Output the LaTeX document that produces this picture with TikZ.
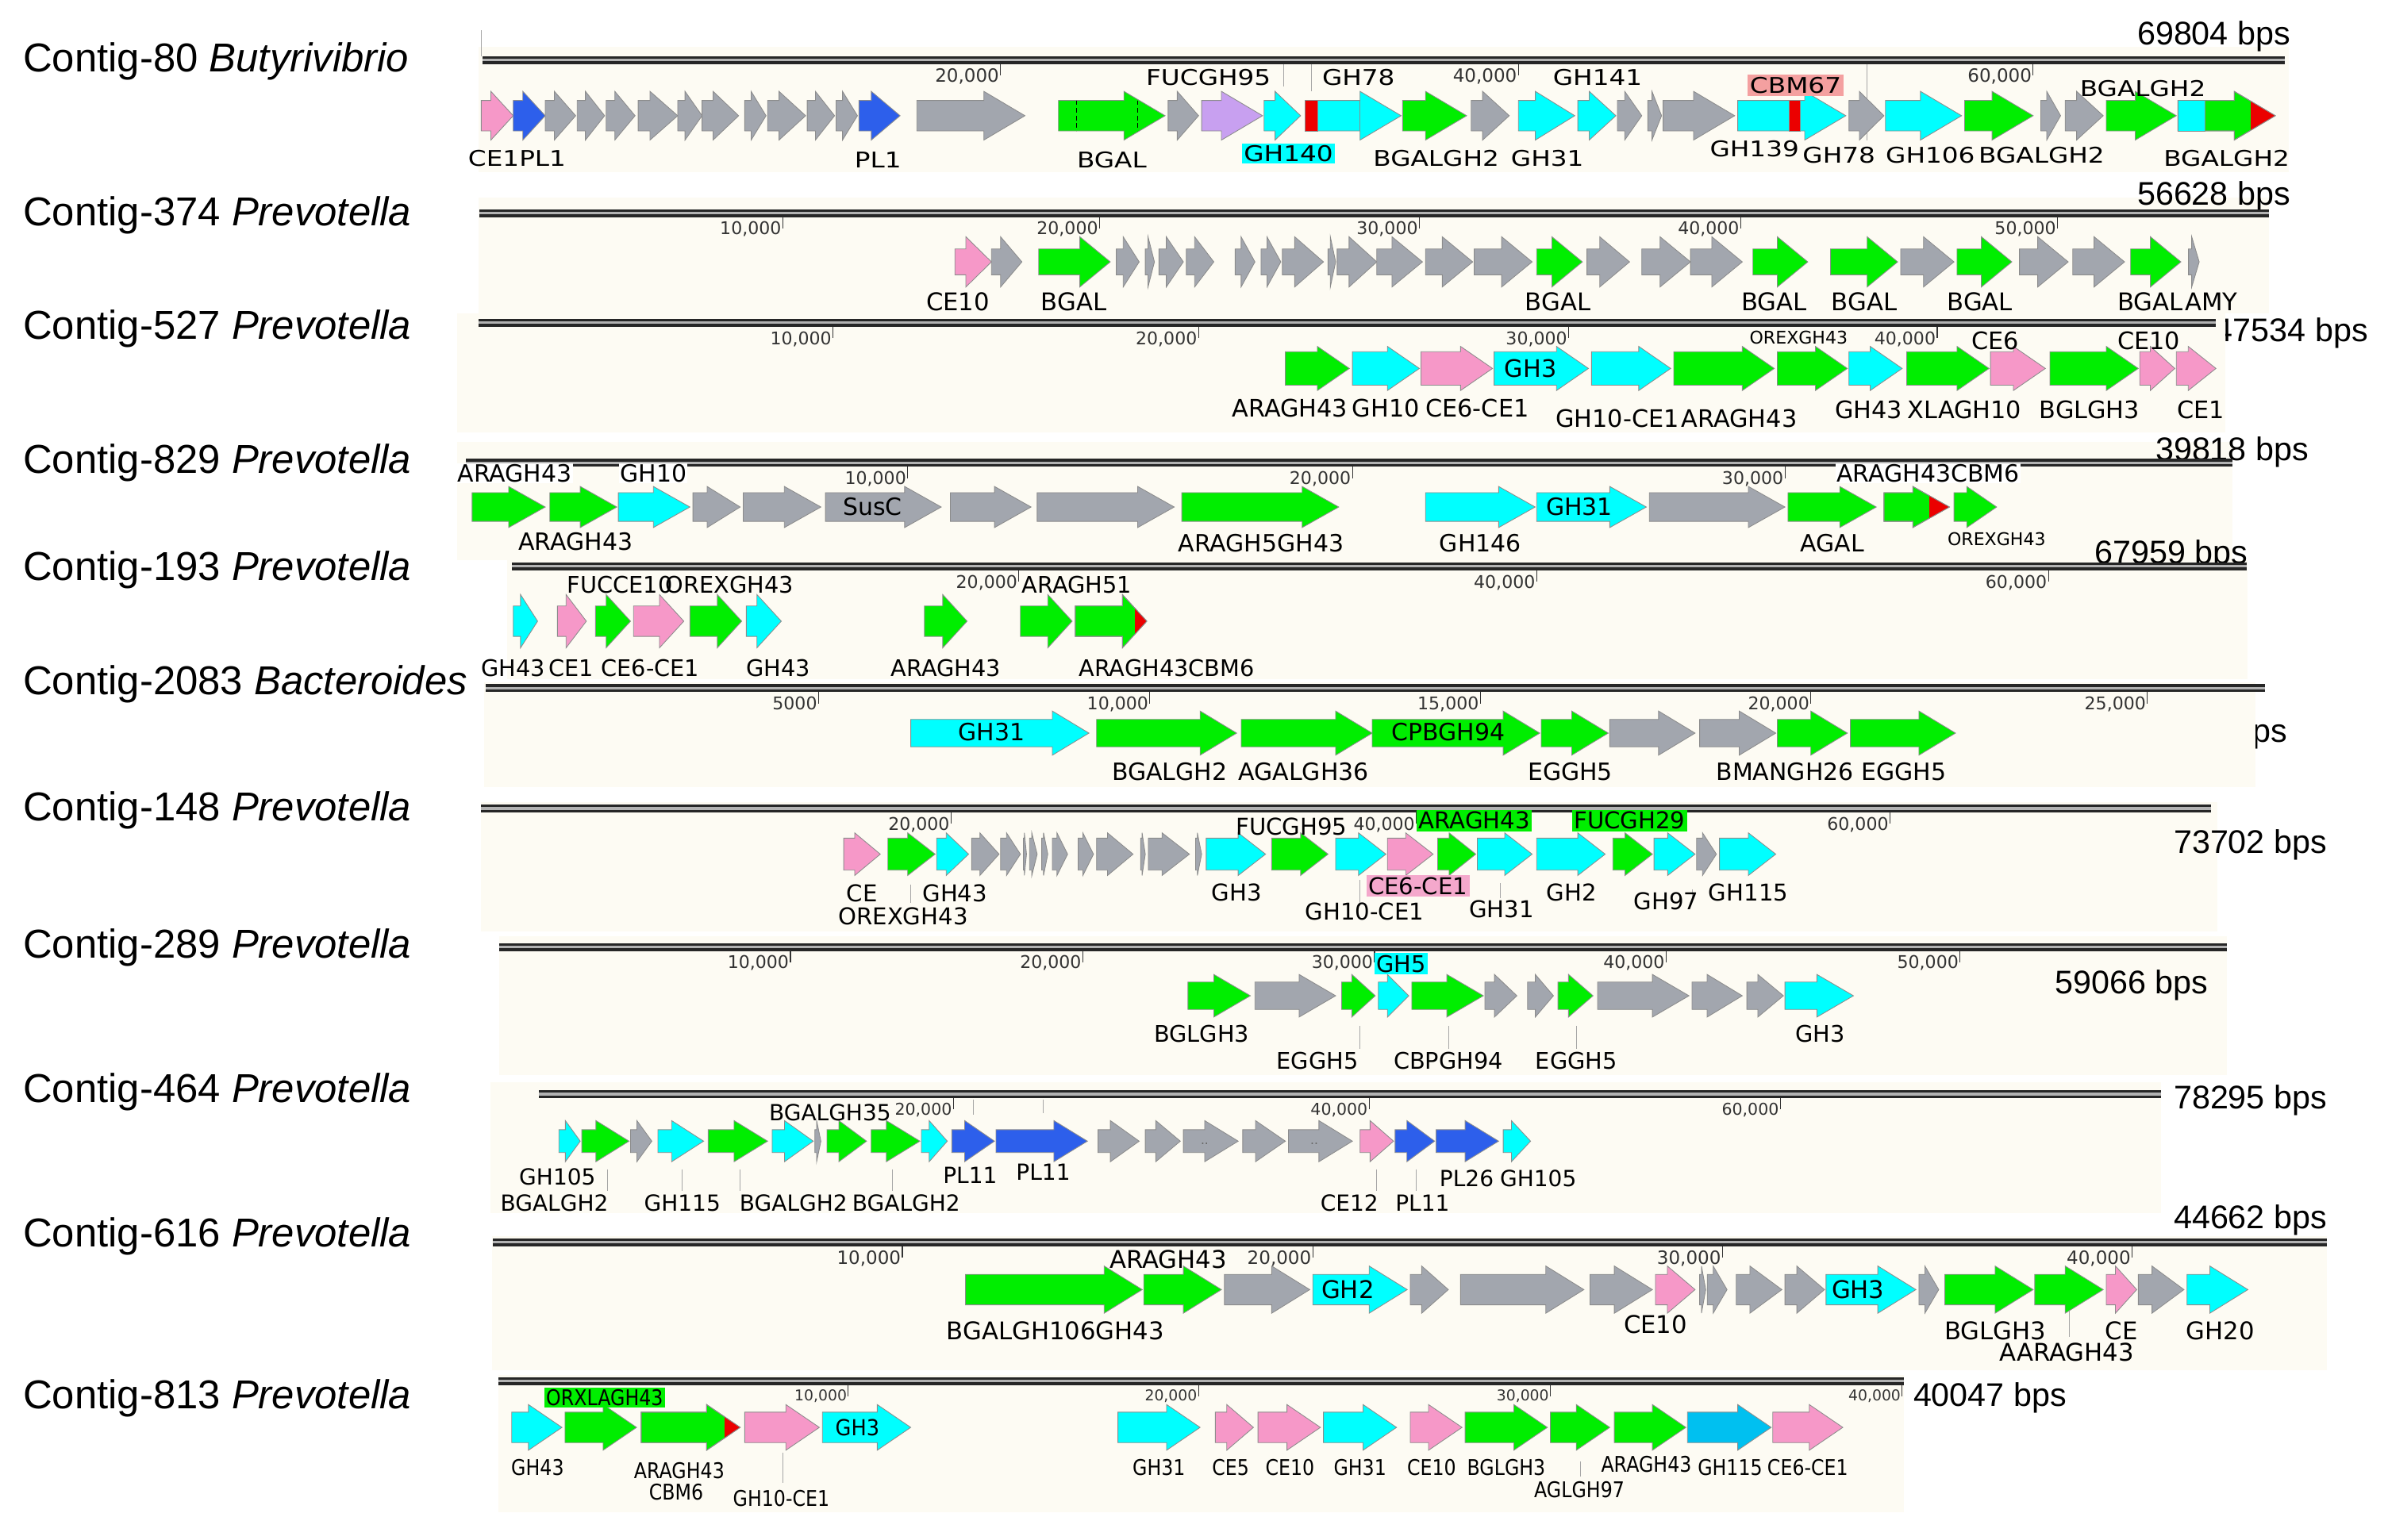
\documentclass[tikz,border=0pt]{standalone}
\usepackage{fontspec}
\newfontfamily\labfont{DejaVu Sans}
\newfontfamily\namefont{Liberation Sans}
\definecolor{gG}{RGB}{0,238,0}
\definecolor{gC}{RGB}{0,255,255}
\definecolor{gY}{RGB}{162,166,174}
\definecolor{gP}{RGB}{246,152,200}
\definecolor{gB}{RGB}{45,95,235}
\definecolor{gV}{RGB}{200,160,240}
\definecolor{gR}{RGB}{235,0,0}
\definecolor{gS}{RGB}{0,192,240}
\definecolor{panel}{RGB}{253,251,243}
\definecolor{salm}{RGB}{244,160,160}
\definecolor{pinkbg}{RGB}{244,168,204}
\newcounter{lbc}
\newcommand\setrow[4]{\def\YC{#1}\def\BH{#2}\def\HH{#3}\def\HL{#4}}
\newcommand\gene[3]{%
 \pgfmathsetmacro\gL{min(\HL,0.7*(#3-#2))}%
 \pgfmathsetmacro\gM{#3-\gL}%
 \filldraw[gene,fill=#1] (#2,\YC-\BH) -- (\gM,\YC-\BH) -- (\gM,\YC-\HH) -- (#3,\YC) -- (\gM,\YC+\HH) -- (\gM,\YC+\BH) -- (#2,\YC+\BH) -- cycle;}
\newcommand\gbox[3]{\filldraw[gene,fill=#1] (#2,\YC-\BH) rectangle (#3,\YC+\BH);}
\newcommand\gtip[4]{%
 \gene{#1}{#2}{#3}%
 \begin{scope}
 \clip (#2,\YC-\BH) -- (\gM,\YC-\BH) -- (\gM,\YC-\HH) -- (#3,\YC) -- (\gM,\YC+\HH) -- (\gM,\YC+\BH) -- (#2,\YC+\BH) -- cycle;
 \fill[gR] (#4,\YC-\HH-1) rectangle (#3+1,\YC+\HH+1);
 \end{scope}
 \draw[gene] (#2,\YC-\BH) -- (\gM,\YC-\BH) -- (\gM,\YC-\HH) -- (#3,\YC) -- (\gM,\YC+\HH) -- (\gM,\YC+\BH) -- (#2,\YC+\BH) -- cycle;}
\newcommand\lab[4][]{\stepcounter{lbc}\node[lbl,#1] (L\arabic{lbc}) at (#2,#3) {\scalebox{\LX}[1]{#4}};}
\newcommand\ruler[3]{\def\RY{#3}\fill[black!85] (#1,#3-2.6) rectangle (#2,#3+2.6); \fill[black!30] (#1,#3-0.8) rectangle (#2,#3+0.8);}
\newcommand\tk[2]{\stepcounter{lbc}\draw[tickl] (#1,\RY+2.5) -- (#1,\RY+10); \node[tlab,anchor=north east] (T\arabic{lbc}) at (#1-0.8,\RY+5.5) {#2};}
\newcommand\lead[3]{\draw[leader] (#1,#2) -- (#1,#3);}
\begin{document}
\begin{tikzpicture}[x=1pt,y=-1pt,
 gene/.style={draw=black!45,line width=0.45pt},
 lbl/.style={font=\labfont\fontsize{\LS}{\LS}\selectfont,inner sep=0.6pt,anchor=base,yshift={-0.36*\LS}},
 tlab/.style={font=\labfont\fontsize{\TS}{\TS}\selectfont,inner sep=0pt,text=black!80},
 tickl/.style={black!80,line width=0.6pt},
 leader/.style={black!35,line width=0.5pt},
 cname/.style={font=\namefont\fontsize{26.5}{29}\selectfont,inner sep=0pt,anchor=base west},
 bps/.style={font=\namefont\fontsize{21.5}{24}\selectfont,inner sep=0pt,anchor=base east}]
\useasboundingbox (0,0) rectangle (1568,1011);
\fill[white] (0,0) rectangle (1568,1011);
% partially hidden bps labels (drawn below panels)
\node[bps] (bps3) at (1555,224.5) {47534 bps};
\node[bps] (bps6) at (1502,487.5) {bps};
% panels
\fill[panel] (314,31) rectangle (1503,113);
\fill[panel] (314,130) rectangle (1490,206);
\fill[panel] (300,206) rectangle (1461,284);
\fill[panel] (300,290) rectangle (1466,368);
\fill[panel] (333,368) rectangle (1476,446);
\fill[panel] (318,448) rectangle (1481,517);
\fill[panel] (316,527) rectangle (1456,612);
\fill[panel] (328,615) rectangle (1462,706);
\fill[panel] (322,711) rectangle (1419,797);
\fill[panel] (323,812) rectangle (1528,900);
\fill[panel] (327,903) rectangle (1250,993);
% contig names
\node[cname] (n1) at (15,47) {Contig-80 \textit{Butyrivibrio}};
\node[cname] (n2) at (15,148) {Contig-374 \textit{Prevotella}};
\node[cname] (n3) at (15,223) {Contig-527 \textit{Prevotella}};
\node[cname] (n4) at (15,311) {Contig-829 \textit{Prevotella}};
\node[cname] (n5) at (15,381) {Contig-193 \textit{Prevotella}};
\node[cname] (n6) at (15,456) {Contig-2083 \textit{Bacteroides}};
\node[cname] (n7) at (15,539) {Contig-148 \textit{Prevotella}};
\node[cname] (n8) at (15,629) {Contig-289 \textit{Prevotella}};
\node[cname] (n9) at (15,724) {Contig-464 \textit{Prevotella}};
\node[cname] (n10) at (15,819) {Contig-616 \textit{Prevotella}};
\node[cname] (n11) at (15,925) {Contig-813 \textit{Prevotella}};
% bps labels
\node[bps] (bps1) at (1504,29.5) {69804 bps};
\node[bps] (bps2) at (1504,134.5) {56628 bps};
\node[bps] (bps4) at (1516,302.5) {39818 bps};
\node[bps] (bps5) at (1476,370.5) {67959 bps};
\node[bps] (bps7) at (1528,560.5) {73702 bps};
\node[bps] (bps8) at (1450,652.5) {59066 bps};
\node[bps] (bps9) at (1528,728) {78295 bps};
\node[bps] (bps10) at (1528,807) {44662 bps};
\node[bps] (bps11) at (1357,923.5) {40047 bps};

%================ Row 1
\def\TS{12}\def\LS{14.2}\def\LX{1.2}
\lead{316}{20}{37}
\ruler{317}{1500}{39.5}
\tk{657}{20,000}\tk{997}{40,000}\tk{1335}{60,000}
\lead{843}{42}{57}\lead{861}{42}{60}\lead{1226}{42}{92}
\setrow{76}{10}{16}{27}
\gene{gP}{316}{337}\gene{gB}{337}{358}\gene{gY}{358}{378}\gene{gY}{379}{397}
\gene{gY}{398}{417}\gene{gY}{419}{445}\gene{gY}{445}{461}\gene{gY}{461}{485}
\gene{gY}{489}{503}\gene{gY}{504}{529}\gene{gY}{530}{548}\gene{gY}{549}{563}
\gene{gB}{564}{591}\gene{gY}{602}{673}\gene{gG}{695}{765}
\draw[densely dashed,line width=0.4pt] (707,\YC-\BH) -- (707,\YC+\BH) (747,\YC-\BH) -- (747,\YC+\BH);
\gene{gY}{767}{787}\gene{gV}{789}{829}\gene{gC}{830}{854}
\gene{gC}{857}{920}\gbox{gR}{857}{865}\draw[gene] (893,\YC-\BH) -- (893,\YC+\BH);
\gene{gG}{921}{963}\gene{gY}{966}{991}\gene{gC}{997}{1034}\gene{gC}{1036}{1061}
\gene{gY}{1062}{1078}\gene{gY}{1082}{1091}\gene{gY}{1092}{1139}
\gene{gC}{1141}{1212}\gbox{gR}{1175}{1182}
\gene{gY}{1214}{1237}\gene{gC}{1238}{1288}\gene{gG}{1290}{1335}
\gene{gY}{1340}{1353}\gene{gY}{1356}{1381}\gene{gG}{1383}{1429}
\gtip{gG}{1430}{1494}{1478}\gbox{gC}{1430}{1448}
\lab{339.5}{104}{CE1PL1}\lab{576.5}{105}{PL1}\lab{730}{105}{BGAL}
\lab{793.5}{51}{FUCGH95}\lab[fill=gC,inner sep=1.2pt]{846}{101}{GH140}\lab{892}{51}{GH78}
\lab{943}{104}{BGALGH2}\lab{1016}{104}{GH31}\lab{1049}{51}{GH141}
\lab[fill=salm,inner sep=1.5pt]{1179}{56}{CBM67}\lab{1152}{98}{GH139}\lab{1207.5}{102}{GH78}
\lab{1267.5}{102}{GH106}\lab{1340.5}{102}{BGALGH2}\lab{1407}{58}{BGALGH2}\lab{1462}{104}{BGALGH2}

%================ Row 2
\def\TS{11.5}\def\LS{16}\def\LX{1}
\ruler{315}{1490}{140}
\tk{514}{10,000}\tk{722}{20,000}\tk{932}{30,000}\tk{1143}{40,000}\tk{1351}{50,000}
\setrow{172}{8.5}{16.5}{20}
\gene{gP}{627}{651}\gene{gY}{651}{671}\gene{gG}{682}{729}\gene{gY}{733}{748}
\gene{gY}{752}{758}\gene{gY}{761}{777}\gene{gY}{779}{797}\gene{gY}{811}{824}
\gene{gY}{828}{841}\gene{gY}{842}{869}\gene{gY}{872}{877}\gene{gY}{878}{904}
\gene{gY}{904}{934}\gene{gY}{936}{967}\gene{gY}{968}{1006}\gene{gG}{1009}{1039}
\gene{gY}{1042}{1070}\gene{gY}{1078}{1110}\gene{gY}{1110}{1144}\gene{gG}{1151}{1187}
\gene{gG}{1202}{1246}\gene{gY}{1248}{1283}\gene{gG}{1285}{1321}\gene{gY}{1326}{1358}
\gene{gY}{1361}{1395}\gene{gG}{1399}{1432}\gene{gY}{1437}{1444}
\lab{629}{198}{CE10}\lab{705}{198}{BGAL}\lab{1023}{198}{BGAL}\lab{1165}{198}{BGAL}
\lab{1224}{198}{BGAL}\lab{1300}{198}{BGAL}\lab{1412}{198}{BGAL}\lab{1452}{198}{AMY}

%================ Row 3
\def\LS{15.8}
\ruler{314}{1455}{212}
\tk{547}{10,000}\tk{787}{20,000}\tk{1030}{30,000}\tk{1272}{40,000}
\setrow{242}{11}{14.5}{21}
\gene{gG}{844}{886}\gene{gC}{888}{932}\gene{gP}{933}{980}\gene{gC}{981}{1043}
\gene{gC}{1045}{1097}\gene{gG}{1099}{1165}\gene{gG}{1167}{1213}\gene{gC}{1214}{1249}
\gene{gG}{1252}{1306}\gene{gP}{1307}{1343}\gene{gG}{1346}{1404}\gene{gP}{1405}{1428}
\gene{gP}{1429}{1455}
\lab{847}{268}{ARAGH43}\lab{910}{268}{GH10}\lab{970}{268}{CE6-CE1}\lab{1005}{242}{GH3}
\lab{1062}{275}{GH10-CE1}\lab{1142}{275}{ARAGH43}
{\def\LS{11.5}\lab{1181}{222}{OREXGH43}}
\lab{1227}{269}{GH43}\lab{1290}{269}{XLAGH10}\lab{1310}{224}{CE6}
\lab{1372}{269}{BGLGH3}\lab{1411}{224}{CE10}\lab{1445}{269}{CE1}

%================ Row 4
\def\LS{15.6}
\ruler{306}{1466}{304}
\tk{596}{10,000}\tk{888}{20,000}\tk{1172}{30,000}
\setrow{333}{9.4}{13.5}{24}
\gene{gG}{310}{358}\gene{gG}{361}{405}\gene{gC}{406}{453}\gene{gY}{455}{486}
\gene{gY}{488}{539}\gene{gY}{542}{618}\gene{gY}{624}{677}\gene{gY}{681}{771}
\gene{gG}{776}{879}\gene{gC}{936}{1008}\gene{gC}{1009}{1081}\gene{gY}{1083}{1172}
\gene{gG}{1174}{1232}\gtip{gG}{1237}{1280}{1267}\gene{gG}{1283}{1311}
\lab[fill=white]{338}{311}{ARAGH43}\lab[fill=white]{429}{311}{GH10}\lab{378}{356}{ARAGH43}
\lab{573}{333}{SusC}\lab{828}{357}{ARAGH5GH43}\lab{972}{357}{GH146}\lab{1037}{333}{GH31}
\lab{1203}{357}{AGAL}\lab[fill=white]{1266}{311}{ARAGH43CBM6}
{\def\LS{11.5}\lab{1311}{354}{OREXGH43}}

%================ Row 5
\def\LS{15}
\ruler{336}{1475}{372}
\tk{669}{20,000}\tk{1009}{40,000}\tk{1345}{60,000}
\setrow{408}{10}{17.5}{16}
\gene{gC}{337}{353}\gene{gP}{366}{385}\gene{gG}{391}{414}\gene{gP}{416}{449}
\gene{gG}{453}{487}\gene{gC}{490}{513}\gene{gG}{607}{635}\gene{gG}{670}{704}
\gtip{gG}{706}{753}{745}
\lab{407}{384}{FUCCE10}\lab{479}{384}{OREXGH43}\lab{707}{384}{ARAGH51}
\lab{337}{439}{GH43}\lab{375}{439}{CE1}\lab{427}{439}{CE6-CE1}\lab{511}{439}{GH43}
\lab{621}{439}{ARAGH43}\lab{766}{439}{ARAGH43CBM6}

%================ Row 6
\def\LS{15.6}
\ruler{319}{1487}{452}
\tk{537.5}{5000}\tk{755}{10,000}\tk{972}{15,000}\tk{1189}{20,000}\tk{1410}{25,000}
\setrow{481.5}{9}{14.5}{24}
\gene{gC}{598}{715}\gene{gG}{720}{812}\gene{gG}{815}{901}\gene{gG}{901}{1011}
\gene{gG}{1012}{1056}\gene{gY}{1057}{1113}\gene{gY}{1116}{1166}\gene{gG}{1167}{1213}
\gene{gG}{1215}{1284}
\lab{651}{481}{GH31}\lab{768}{507}{BGALGH2}\lab{856}{507}{AGALGH36}\lab{951}{481}{CPBGH94}
\lab{1031}{507}{EGGH5}\lab{1172}{507}{BMANGH26}\lab{1250}{507}{EGGH5}

%================ Row 7
\def\LS{15.2}
\ruler{316}{1452}{531}
\tk{624.5}{20,000}\tk{930}{40,000}\tk{1241}{60,000}
\lead{598}{581}{593}\lead{893}{578}{595}\lead{985}{580}{590}\lead{1111}{584}{592}
\setrow{561}{10.5}{14}{18}
\gene{gP}{554}{578}\gene{gG}{583}{614}\gene{gC}{615}{636}\gene{gY}{638}{656}
\gene{gY}{657}{670}\gene{gY}{672}{674}\gene{gY}{676}{681}\gene{gY}{684}{688}
\gene{gY}{691}{701}\gene{gY}{708}{718}\gene{gY}{720}{744}\gene{gY}{749}{752}
\gene{gY}{754}{781}\gene{gY}{785}{789}\gene{gC}{792}{831}\gene{gG}{835}{872}
\gene{gC}{877}{910}\gene{gP}{911}{941}\gene{gG}{944}{969}\gene{gC}{970}{1006}
\gene{gC}{1009}{1054}\gene{gG}{1059}{1085}\gene{gC}{1086}{1113}\gene{gY}{1114}{1127}
\gene{gC}{1129}{1166}
\lab{566}{587}{CE}\lab{593}{602}{OREXGH43}\lab{627}{587}{GH43}\lab{848}{543}{FUCGH95}
\lab[fill=gG,inner sep=1.3pt]{968}{539}{ARAGH43}\lab[fill=gG,inner sep=1.3pt]{1070}{539}{FUCGH29}
\lab{812}{586}{GH3}\lab[fill=pinkbg,inner sep=1.3pt]{931}{582}{CE6-CE1}\lab{896}{599}{GH10-CE1}
\lab{986}{597}{GH31}\lab{1032}{586}{GH2}\lab{1094}{592}{GH97}\lab{1148}{586}{GH115}

%================ Row 8
\def\LS{15}
\ruler{328}{1462}{622}
\tk{519}{10,000}\tk{711}{20,000}\tk{902.5}{30,000}\tk{1094}{40,000}\tk{1287}{50,000}
\lead{893}{674}{689}\lead{951}{674}{689}\lead{1035}{674}{689}
\setrow{654}{9}{14}{24}
\gene{gG}{780}{821}\gene{gY}{824}{877}\gene{gG}{881}{903}\gene{gC}{905}{925}
\gene{gG}{927}{974}\gene{gY}{975}{996}\gene{gY}{1003}{1020}\gene{gG}{1023}{1046}
\gene{gY}{1049}{1109}\gene{gY}{1111}{1144}\gene{gY}{1147}{1171}\gene{gC}{1172}{1217}
\lab[fill=gC,inner sep=1.3pt]{920}{633}{GH5}\lab{789}{679}{BGLGH3}\lab{865}{697}{EGGH5}
\lab{951}{697}{CBPGH94}\lab{1035}{697}{EGGH5}\lab{1195}{679}{GH3}

%================ Row 9
\def\TS{10.7}\def\LS{14.6}
\ruler{354}{1419}{718.6}
\tk{626}{20,000}\tk{899}{40,000}\tk{1169}{60,000}
\lead{639}{722}{732}\lead{685}{722}{731}
\lead{399}{768}{782}\lead{448}{768}{782}\lead{486}{768}{782}\lead{586}{768}{782}
\lead{904}{768}{782}\lead{930}{768}{782}
\setrow{749.5}{7.5}{13.5}{22}
\gene{gC}{367}{381}\gene{gG}{382}{413}\gene{gY}{414}{428}\gene{gC}{432}{462}
\gene{gG}{465}{504}\gene{gC}{507}{534}\gene{gY}{535}{539}\gene{gG}{543}{569}
\gene{gG}{572}{604}\gene{gC}{605}{622}\gene{gB}{625}{653}\gene{gB}{654}{714}
\gene{gY}{721}{748}\gene{gY}{752}{775}\gene{gY}{777}{813}\gene{gY}{816}{844}
\gene{gY}{846}{888}\gene{gP}{893}{915}\gene{gB}{916}{942}\gene{gB}{943}{984}
\gene{gC}{987}{1005}
\node[font=\labfont\fontsize{8}{8}\selectfont,text=black!60,inner sep=0pt] (dd1) at (791,751) {..};
\node[font=\labfont\fontsize{8}{8}\selectfont,text=black!60,inner sep=0pt] (dd2) at (863,751) {..};
\lab{545}{731}{BGALGH35}\lab{366}{773}{GH105}\lab{364}{790}{BGALGH2}\lab{448}{790}{GH115}
\lab{521}{790}{BGALGH2}\lab{595}{790}{BGALGH2}\lab{637}{772}{PL11}\lab{685}{770}{PL11}
\lab{963}{774}{PL26}\lab{1010}{774}{GH105}\lab{886}{790}{CE12}\lab{934}{790}{PL11}

%================ Row 10
\def\TS{12}\def\LS{16}
\ruler{323.5}{1528}{816}
\tk{592.5}{10,000}\tk{862}{20,000}\tk{1131}{30,000}\tk{1400}{40,000}
\lead{1359}{861}{878}
\setrow{847}{10}{15.5}{25}
\gene{gG}{634}{750}\gene{gG}{751}{802}\gene{gY}{804}{860}\gene{gC}{862}{924}
\gene{gY}{926}{951}\gene{gY}{959}{1040}\gene{gY}{1044}{1085}\gene{gP}{1087}{1113}
\gene{gY}{1116}{1120}\gene{gY}{1121}{1134}\gene{gY}{1140}{1170}\gene{gY}{1172}{1198}
\gene{gC}{1199}{1258}\gene{gY}{1260}{1273}\gene{gG}{1277}{1335}\gene{gG}{1336}{1381}
\gene{gP}{1383}{1403}\gene{gY}{1404}{1434}\gene{gC}{1436}{1476}
\lab{693}{874}{BGALGH106GH43}\lab{767}{827}{ARAGH43}\lab{885}{847}{GH2}\lab{1087}{870}{CE10}
\lab{1220}{847}{GH3}\lab{1310}{874}{BGLGH3}\lab{1357}{888}{AARAGH43}\lab{1393}{874}{CE}
\lab{1458}{874}{GH20}

%================ Row 11
\def\TS{9.8}\def\LS{14.2}\def\LX{0.87}
\ruler{327}{1250}{907}
\tk{557}{10,000}\tk{787}{20,000}\tk{1018}{30,000}\tk{1249}{40,000}
\lead{514}{954}{974}\lead{1038}{960}{970}
\setrow{937.5}{10}{15}{22}
\gene{gC}{336}{369}\gene{gG}{371}{418}\gtip{gG}{421}{486}{476}\gene{gP}{489}{538}
\gene{gC}{540}{598}\gene{gC}{734}{788}\gene{gP}{798}{823}\gene{gP}{826}{867}
\gene{gC}{869}{917}\gene{gP}{926}{960}\gene{gG}{962}{1016}\gene{gG}{1018}{1057}
\gene{gG}{1060}{1107}\gene{gS}{1108}{1163}\gene{gP}{1164}{1210}
\lab[fill=gG,inner sep=1.3pt]{397}{918}{ORXLAGH43}\lab{353}{964}{GH43}\lab{446}{966}{ARAGH43}
\lab{444}{980}{CBM6}\lab{513}{984}{GH10-CE1}
{\def\LS{14.5}\def\LX{0.92}\lab{563}{937.5}{GH3}}
\lab{761}{964}{GH31}\lab{808}{964}{CE5}\lab{847}{964}{CE10}\lab{893}{964}{GH31}
\lab{940}{964}{CE10}\lab{989}{964}{BGLGH3}\lab{1037}{978.5}{AGLGH97}\lab{1081}{962}{ARAGH43}
\lab{1136}{964}{GH115}\lab{1187}{964}{CE6-CE1}
\end{tikzpicture}
\end{document}
